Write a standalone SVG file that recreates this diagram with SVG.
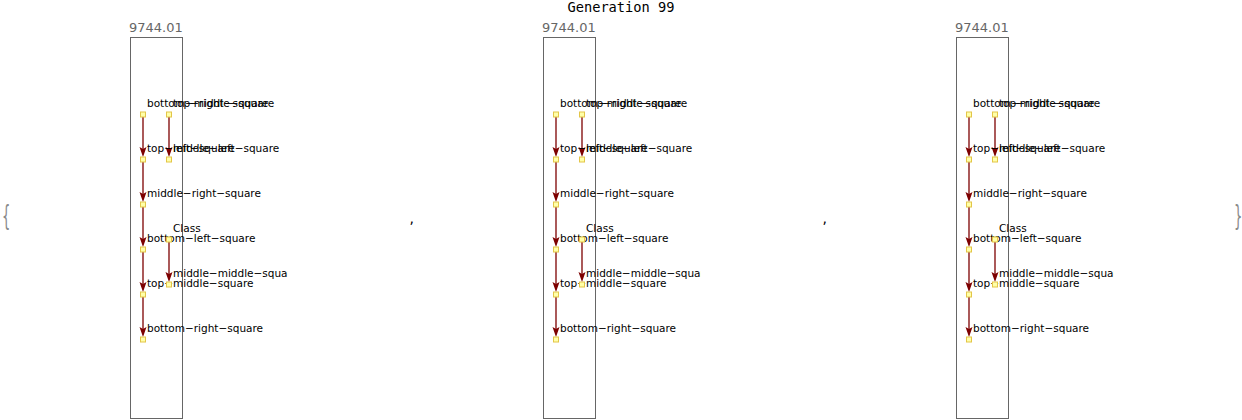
<svg xmlns="http://www.w3.org/2000/svg" width="1242" height="420" viewBox="0 0 1242 420">
<style>
.title{font-family:"DejaVu Sans Mono","Liberation Mono",monospace;font-size:13.7px;fill:#000}
.val{font-family:"DejaVu Sans","Liberation Sans",sans-serif;font-size:13px;fill:#666}
.frame{fill:none;stroke:#666;stroke-width:1}
.lbl{font-family:"DejaVu Sans","Liberation Sans",sans-serif;font-size:10.5px;fill:#000}
.nd{fill:#ffffa8;stroke:#e3c548;stroke-width:1}
.edge{stroke:#7d0000;stroke-width:1.3;fill:none}
.ah{fill:#7d0000}
.sep{font-family:"DejaVu Sans","Liberation Sans",sans-serif;font-size:14px;fill:#000}
.brace{font-family:"DejaVu Sans","Liberation Sans",sans-serif;font-size:22px;fill:#8a8a8a}
</style>
<defs>
<clipPath id="c1"><rect x="0" y="0" width="288" height="420"/></clipPath>
<g id="arrow"><path class="ah" d="M-3.5,-10 L0,-8 L3.5,-10 L0,0 Z"/></g>
</defs>
<text class="title" x="621" y="12" text-anchor="middle">Generation 99</text>
<text class="brace" transform="translate(2,226) scale(0.6,1.25)">{</text>
<text class="brace" transform="translate(1234,226) scale(0.6,1.25)">}</text>
<text class="sep" x="409.5" y="223">,</text>
<text class="sep" x="822.5" y="223">,</text>

<g id="panel1">
<text class="val" x="129" y="32">9744.01</text>
<rect class="frame" x="130.5" y="37.5" width="52" height="381"/>
<g id="p1-edges">
<line class="edge" x1="143" y1="117" x2="143" y2="150"/><use href="#arrow" x="143" y="157"/>
<line class="edge" x1="143" y1="162" x2="143" y2="195"/><use href="#arrow" x="143" y="202"/>
<line class="edge" x1="143" y1="207" x2="143" y2="240"/><use href="#arrow" x="143" y="247"/>
<line class="edge" x1="143" y1="252" x2="143" y2="285"/><use href="#arrow" x="143" y="292"/>
<line class="edge" x1="143" y1="297" x2="143" y2="330"/><use href="#arrow" x="143" y="337"/>
<line class="edge" x1="169" y1="117" x2="169" y2="150"/><use href="#arrow" x="169" y="157"/>
<line class="edge" x1="169" y1="242" x2="169" y2="275"/><use href="#arrow" x="169" y="282"/>
</g>
<g clip-path="url(#c1)">
<g id="p1-n1"><rect class="nd" x="140.5" y="112" width="5" height="5"/><text class="lbl" x="147" y="106.7">bottom−middle−square</text></g>
<g id="p1-n2"><rect class="nd" x="166.5" y="112" width="5" height="5"/><text class="lbl" x="173" y="106.7">top−right−square</text></g>
<g id="p1-n3"><rect class="nd" x="140.5" y="157" width="5" height="5"/><text class="lbl" x="147" y="151.7">top−left−square</text></g>
<g id="p1-n4"><rect class="nd" x="166.5" y="157" width="5" height="5"/><text class="lbl" x="173" y="151.7">middle−left−square</text></g>
<g id="p1-n5"><rect class="nd" x="140.5" y="202" width="5" height="5"/><text class="lbl" x="147" y="196.7">middle−right−square</text></g>
<g id="p1-n6"><rect class="nd" x="140.5" y="247" width="5" height="5"/><text class="lbl" x="147" y="241.7">bottom−left−square</text></g>
<g id="p1-n7"><rect class="nd" x="166.5" y="237" width="5" height="5"/><text class="lbl" x="173" y="231.7">Class</text></g>
<g id="p1-n8"><rect class="nd" x="140.5" y="292" width="5" height="5"/><text class="lbl" x="147" y="286.7">top−middle−square</text></g>
<g id="p1-n9"><rect class="nd" x="166.5" y="282" width="5" height="5"/><text class="lbl" x="173" y="276.7">middle−middle−square</text></g>
<g id="p1-n10"><rect class="nd" x="140.5" y="337" width="5" height="5"/><text class="lbl" x="147" y="331.7">bottom−right−square</text></g>
</g>
</g>

<g id="panel2" transform="translate(413,0)">
<text class="val" x="129" y="32">9744.01</text>
<rect class="frame" x="130.5" y="37.5" width="52" height="381"/>
<g id="p2-edges">
<line class="edge" x1="143" y1="117" x2="143" y2="150"/><use href="#arrow" x="143" y="157"/>
<line class="edge" x1="143" y1="162" x2="143" y2="195"/><use href="#arrow" x="143" y="202"/>
<line class="edge" x1="143" y1="207" x2="143" y2="240"/><use href="#arrow" x="143" y="247"/>
<line class="edge" x1="143" y1="252" x2="143" y2="285"/><use href="#arrow" x="143" y="292"/>
<line class="edge" x1="143" y1="297" x2="143" y2="330"/><use href="#arrow" x="143" y="337"/>
<line class="edge" x1="169" y1="117" x2="169" y2="150"/><use href="#arrow" x="169" y="157"/>
<line class="edge" x1="169" y1="242" x2="169" y2="275"/><use href="#arrow" x="169" y="282"/>
</g>
<g clip-path="url(#c1)">
<g id="p2-n1"><rect class="nd" x="140.5" y="112" width="5" height="5"/><text class="lbl" x="147" y="106.7">bottom−middle−square</text></g>
<g id="p2-n2"><rect class="nd" x="166.5" y="112" width="5" height="5"/><text class="lbl" x="173" y="106.7">top−right−square</text></g>
<g id="p2-n3"><rect class="nd" x="140.5" y="157" width="5" height="5"/><text class="lbl" x="147" y="151.7">top−left−square</text></g>
<g id="p2-n4"><rect class="nd" x="166.5" y="157" width="5" height="5"/><text class="lbl" x="173" y="151.7">middle−left−square</text></g>
<g id="p2-n5"><rect class="nd" x="140.5" y="202" width="5" height="5"/><text class="lbl" x="147" y="196.7">middle−right−square</text></g>
<g id="p2-n6"><rect class="nd" x="140.5" y="247" width="5" height="5"/><text class="lbl" x="147" y="241.7">bottom−left−square</text></g>
<g id="p2-n7"><rect class="nd" x="166.5" y="237" width="5" height="5"/><text class="lbl" x="173" y="231.7">Class</text></g>
<g id="p2-n8"><rect class="nd" x="140.5" y="292" width="5" height="5"/><text class="lbl" x="147" y="286.7">top−middle−square</text></g>
<g id="p2-n9"><rect class="nd" x="166.5" y="282" width="5" height="5"/><text class="lbl" x="173" y="276.7">middle−middle−square</text></g>
<g id="p2-n10"><rect class="nd" x="140.5" y="337" width="5" height="5"/><text class="lbl" x="147" y="331.7">bottom−right−square</text></g>
</g>
</g>

<g id="panel3" transform="translate(826,0)">
<text class="val" x="129" y="32">9744.01</text>
<rect class="frame" x="130.5" y="37.5" width="52" height="381"/>
<g id="p3-edges">
<line class="edge" x1="143" y1="117" x2="143" y2="150"/><use href="#arrow" x="143" y="157"/>
<line class="edge" x1="143" y1="162" x2="143" y2="195"/><use href="#arrow" x="143" y="202"/>
<line class="edge" x1="143" y1="207" x2="143" y2="240"/><use href="#arrow" x="143" y="247"/>
<line class="edge" x1="143" y1="252" x2="143" y2="285"/><use href="#arrow" x="143" y="292"/>
<line class="edge" x1="143" y1="297" x2="143" y2="330"/><use href="#arrow" x="143" y="337"/>
<line class="edge" x1="169" y1="117" x2="169" y2="150"/><use href="#arrow" x="169" y="157"/>
<line class="edge" x1="169" y1="242" x2="169" y2="275"/><use href="#arrow" x="169" y="282"/>
</g>
<g clip-path="url(#c1)">
<g id="p3-n1"><rect class="nd" x="140.5" y="112" width="5" height="5"/><text class="lbl" x="147" y="106.7">bottom−middle−square</text></g>
<g id="p3-n2"><rect class="nd" x="166.5" y="112" width="5" height="5"/><text class="lbl" x="173" y="106.7">top−right−square</text></g>
<g id="p3-n3"><rect class="nd" x="140.5" y="157" width="5" height="5"/><text class="lbl" x="147" y="151.7">top−left−square</text></g>
<g id="p3-n4"><rect class="nd" x="166.5" y="157" width="5" height="5"/><text class="lbl" x="173" y="151.7">middle−left−square</text></g>
<g id="p3-n5"><rect class="nd" x="140.5" y="202" width="5" height="5"/><text class="lbl" x="147" y="196.7">middle−right−square</text></g>
<g id="p3-n6"><rect class="nd" x="140.5" y="247" width="5" height="5"/><text class="lbl" x="147" y="241.7">bottom−left−square</text></g>
<g id="p3-n7"><rect class="nd" x="166.5" y="237" width="5" height="5"/><text class="lbl" x="173" y="231.7">Class</text></g>
<g id="p3-n8"><rect class="nd" x="140.5" y="292" width="5" height="5"/><text class="lbl" x="147" y="286.7">top−middle−square</text></g>
<g id="p3-n9"><rect class="nd" x="166.5" y="282" width="5" height="5"/><text class="lbl" x="173" y="276.7">middle−middle−square</text></g>
<g id="p3-n10"><rect class="nd" x="140.5" y="337" width="5" height="5"/><text class="lbl" x="147" y="331.7">bottom−right−square</text></g>
</g>
</g>
</svg>
